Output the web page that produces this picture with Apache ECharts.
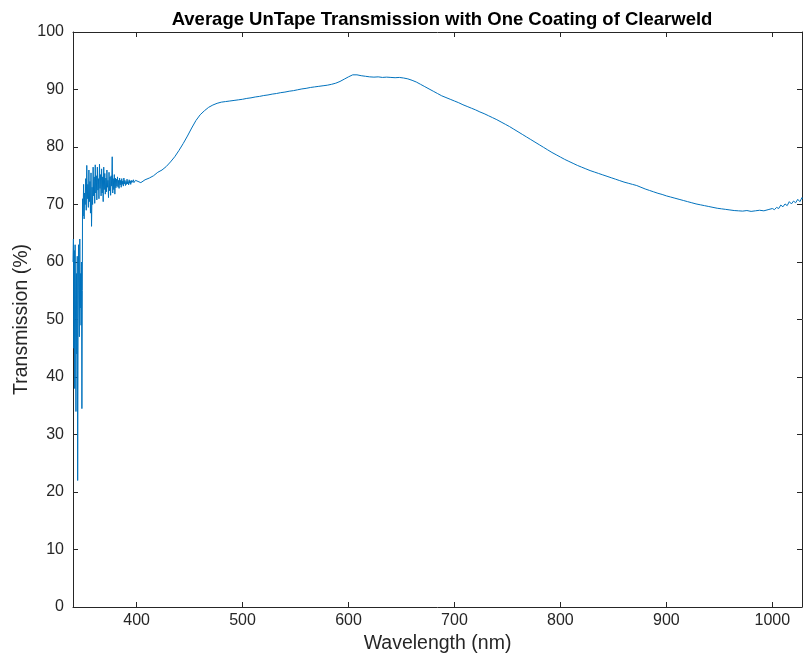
<!DOCTYPE html>
<html>
<head>
<meta charset="utf-8">
<script src="https://cdn.jsdelivr.net/npm/echarts@6/dist/echarts.min.js"></script>
<style>
  html, body { margin: 0; padding: 0; background: #fff; }
  #chart { width: 803px; height: 655px; }
</style>
</head>
<body>
<div id="chart"></div>
<script>
// Spectrometer readings: wavelength (nm) and average transmission (%)
const wavelengthUV = [340.0,340.4,340.8,341.2,341.6,342.0,342.4,342.8,343.2,343.6,344.0,344.4,344.8,345.2,345.6,346.0,346.4,346.8,347.2,347.6,348.0,348.4,348.8];
const transmissionUV = [60,64,45,62,38,63,50,34,58,44,61,22,48,63,55,47,64,52,58,49,60,34.5,55];

const wavelengthBlue = [349.0,349.5,350.0,350.5,351.0,351.5,352.0,352.5,353.0,353.5,354.0,354.5,355.0,355.5,356.0,356.5,357.0,357.5,358.0,358.5,359.0,359.5,360.0,360.5,361.0,361.5,362.0,362.5,363.0,363.5,364.0,364.5,365.0,365.5,366.0,366.5,367.0,367.5,368.0,368.5,369.0,369.5,370.0,370.5,371.0,371.5,372.0,372.5,373.0,373.5,374.0,374.5,375.0,375.5,376.0,376.5,377.0,377.5,378.0,378.5,379.0,379.5,380.0,380.5,381.0,381.5,382.0,382.5,383.0,383.5,384.0,384.5,385.0,385.5,386.0,386.5,387.0,387.5,388.0,388.5,389.0,389.5,390.0,390.5,391.0,391.5,392.0,392.5,393.0,393.5,394.0,394.5,395.0,395.5,396.0,396.5,397.0,397.5,398.0,398.5,399.0,399.5,400.0];
const transmissionBlue = [71,68,73.5,67.5,72,70,74.5,69,76.8,71,73.5,69.5,76,70.5,74,68.5,75.5,66.2,73,70,76.5,71.5,74.8,70.2,76.9,72,75,70.8,76.5,72.5,74.5,71,77,72.8,75.2,71.5,76.2,72,74.8,70.5,76.5,72.6,75.4,71.8,74.6,72.2,76,73,74.2,71.2,75.6,72.4,74.8,71.6,75,73.2,78.3,72,74.5,72.6,75.2,71.8,74.6,72.9,74.4,73.2,74.8,73,74.2,72.8,74.6,73.4,74.2,73,74.5,73.5,74.1,73.2,74.6,73.6,74.2,73.3,74.0,73.5,74.4,73.6,74.0,73.4,74.3,73.7,74.1,73.5,74.2,73.8,74.0,73.6,74.3,73.8,74.1,73.7,74.2,73.9,74.1];

const wavelengthVisNir = [404,408,412,416,420,424,428,432,436,440,444,448,452,456,460,464,468,472,476,480,484,488,492,496,500,504,508,512,516,520,524,528,532,536,540,544,548,552,556,560,564,568,572,576,580,584,588,592,596,600,604,608,612,616,620,624,628,632,636,640,644,648,652,656,660,664,668,672,676,680,684,688,692,696,700,704,708,712,716,720,724,728,732,736,740,744,748,752,756,760,764,768,772,776,780,784,788,792,796,800,804,808,812,816,820,824,828,832,836,840,844,848,852,856,860,864,868,872,876,880,884,888,892,896,900,904,908,912,916,920,924,928,932,936,940,944,948,952,956,960,964,968,972,976,980,984,988,992,996,1000,1002,1004,1006,1008,1010,1012,1014,1016,1018,1020,1022,1024,1026,1028,1030];
const transmissionVisNir = [73.8,74.3,74.6,75.0,75.6,76.0,76.6,77.4,78.3,79.4,80.6,81.9,83.3,84.6,85.6,86.3,86.9,87.3,87.6,87.8,87.9,88.0,88.1,88.2,88.3,88.45,88.55,88.7,88.8,88.95,89.05,89.2,89.3,89.45,89.55,89.7,89.8,89.95,90.1,90.2,90.35,90.45,90.55,90.65,90.75,90.9,91.1,91.4,91.8,92.2,92.55,92.55,92.4,92.3,92.2,92.15,92.2,92.1,92.15,92.1,92.05,92.1,92.0,91.85,91.6,91.3,90.9,90.5,90.1,89.7,89.3,88.9,88.6,88.3,88.0,87.7,87.35,87.05,86.75,86.45,86.1,85.8,85.45,85.1,84.75,84.35,83.95,83.55,83.1,82.65,82.2,81.75,81.3,80.85,80.4,79.95,79.5,79.05,78.65,78.25,77.85,77.5,77.15,76.8,76.5,76.2,75.9,75.65,75.4,75.15,74.9,74.65,74.4,74.15,73.9,73.7,73.5,73.3,73.0,72.7,72.45,72.2,71.95,71.75,71.5,71.3,71.1,70.9,70.7,70.5,70.3,70.1,69.95,69.8,69.65,69.5,69.35,69.25,69.15,69.05,68.95,68.9,68.85,68.95,68.8,68.9,69.0,68.9,69.1,69.3,69.1,69.5,69.3,69.9,69.6,70.1,69.8,70.5,70.1,70.6,70.3,70.9,70.5,71.2,70.8];

const xTickValues = [400, 500, 600, 700, 800, 900, 1000];
const axisColor = '#262626';
const lineColor = '#0072BD';

const points = [];
[[wavelengthUV, transmissionUV], [wavelengthBlue, transmissionBlue], [wavelengthVisNir, transmissionVisNir]]
  .forEach(([w, t]) => w.forEach((x, i) => points.push([x, t[i]])));

const chart = echarts.init(document.getElementById('chart'), null, { renderer: 'canvas' });

const tickStyle = { inside: true, length: 5, lineStyle: { color: axisColor, width: 1 } };
const font = 'Liberation Sans, Helvetica, Arial, sans-serif';
const plain = v => String(v);

chart.setOption({
  animation: false,
  backgroundColor: '#fff',
  title: {
    text: 'Average UnTape Transmission with One Coating of Clearweld',
    left: 437, top: 5, textAlign: 'center',
    textStyle: { fontFamily: font, fontSize: 18.5, fontWeight: 'bold', color: '#000' }
  },
  grid: { left: 73, right: 1, top: 32, bottom: 48, containLabel: false, outerBoundsMode: 'none' },
  xAxis: [{
    type: 'value', min: 340, max: 1028,
    name: 'Wavelength (nm)', nameLocation: 'middle', nameGap: 26,
    nameTextStyle: { fontFamily: font, fontSize: 19.5, color: axisColor },
    axisLine: { show: true, lineStyle: { color: axisColor, width: 1 } },
    axisTick: Object.assign({ customValues: xTickValues }, tickStyle),
    axisLabel: { customValues: xTickValues, formatter: plain, fontFamily: font, fontSize: 16, color: axisColor, margin: 6 },
    splitLine: { show: false }
  }, {
    type: 'value', min: 340, max: 1028, position: 'top',
    axisLine: { show: true, onZero: false, lineStyle: { color: axisColor, width: 1 } },
    axisTick: Object.assign({ customValues: xTickValues }, tickStyle),
    axisLabel: { show: false },
    splitLine: { show: false }
  }],
  yAxis: [{
    type: 'value', min: 0, max: 100, interval: 10,
    name: 'Transmission (%)', nameLocation: 'middle', nameGap: 41, nameRotate: 90,
    nameMoveOverlap: false,
    nameTextStyle: { fontFamily: font, fontSize: 19.5, color: axisColor },
    axisLine: { show: true, lineStyle: { color: axisColor, width: 1 } },
    axisTick: tickStyle,
    axisLabel: { formatter: plain, fontFamily: font, fontSize: 16, color: axisColor, margin: 9 },
    splitLine: { show: false }
  }, {
    type: 'value', min: 0, max: 100, interval: 10, position: 'right',
    axisLine: { show: true, onZero: false, lineStyle: { color: axisColor, width: 1 } },
    axisTick: tickStyle,
    axisLabel: { show: false },
    splitLine: { show: false }
  }],
  series: [{
    type: 'line',
    data: points,
    xAxisIndex: 0, yAxisIndex: 0,
    showSymbol: false,
    symbol: 'none',
    clip: true,
    lineStyle: { color: lineColor, width: 1 },
    emphasis: { disabled: true }
  }]
});
</script>
</body>
</html>
